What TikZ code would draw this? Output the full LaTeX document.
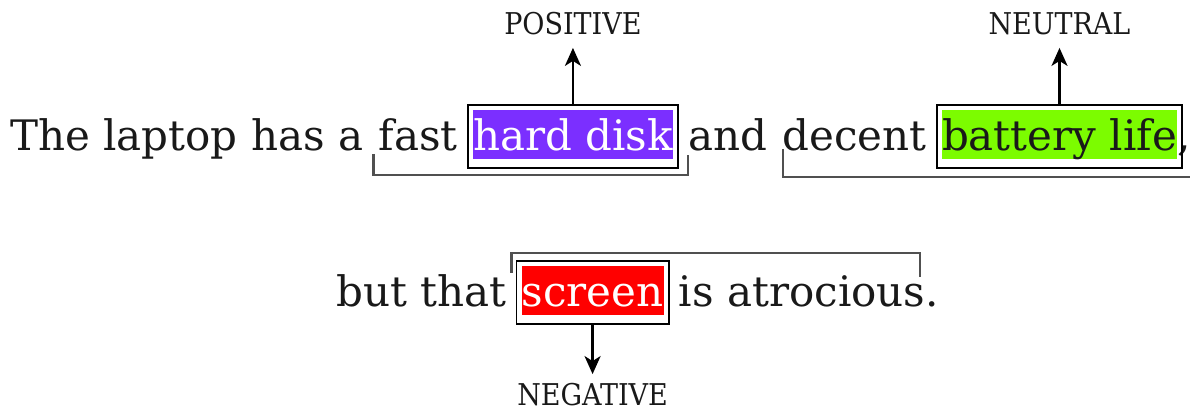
\documentclass[tikz,border=0pt]{standalone}
\usepackage{fontspec}
\setmainfont{DejaVu Serif}
\newfontfamily\polarityfont{DejaVu Serif Condensed}
\usetikzlibrary{arrows.meta, positioning, fit}
\definecolor{aspectpositive}{HTML}{7B2FFF}
\definecolor{aspectneutral}{HTML}{7CFC00}
\definecolor{aspectnegative}{HTML}{FF0000}
\definecolor{spanline}{HTML}{505050}
\newcommand\wordgap{15pt}

\begin{document}
\begin{tikzpicture}[
    x=1pt, y=1pt,
    word/.style={
        inner sep=0pt,
        anchor=base west,
        font=\fontsize{42}{50}\selectfont,
        text=black!90
    },
    aspect/.style={
        word,
        text height=41pt,
        text depth=8pt
    },
    aspectframe/.style={
        draw,
        line width=1.8pt,
        inner xsep=5pt,
        inner ysep=7pt,
        yshift=-2pt
    },
    polarity/.style={
        font=\polarityfont\fontsize{30}{36}\selectfont,
        inner sep=0pt,
        text=black!90
    },
    polaritylink/.style={
        -{Stealth[length=18pt, width=16pt, inset=5pt]},
        line width=2.6pt,
        shorten >=13pt
    },
    opinionspan/.style={
        draw=spanline,
        line width=2.2pt
    }
]
    \useasboundingbox (0,0) rectangle (1190,414);

    % first line
    \node[word] (theLaptop) at (10,263) {The laptop has a};
    \node[word] (fast) at ([xshift=\wordgap]theLaptop.base east) {fast};
    \node[aspect, fill=aspectpositive, text=white] (hardDisk) at ([xshift=\wordgap]fast.base east) {hard disk};
    \node[word] (and) at ([xshift=\wordgap]hardDisk.base east) {and};
    \node[word] (decent) at ([xshift=\wordgap]and.base east) {decent};
    \node[aspect, fill=aspectneutral] (batteryLife) at ([xshift=\wordgap]decent.base east) {battery life};
    \node[word] (comma) at (batteryLife.base east) {,};

    \node[aspectframe, fit=(hardDisk)] (hardDiskFrame) {};
    \node[aspectframe, fit=(batteryLife)] (batteryLifeFrame) {};

    \node[polarity, above=69pt of hardDiskFrame] (positive) {POSITIVE};
    \node[polarity, above=69pt of batteryLifeFrame] (neutral) {NEUTRAL};
    \draw[polaritylink] (hardDiskFrame.north) -- (positive.south);
    \draw[polaritylink] (batteryLifeFrame.north) -- (neutral.south);

    \draw[opinionspan] ([xshift=-5pt, yshift=-3pt]fast.base west) |- ([xshift=9pt, yshift=-6pt]hardDiskFrame.south east) -- ++(0,20);
    \draw[opinionspan] ([xshift=1pt, yshift=2pt]decent.base west) |- ([xshift=8pt, yshift=-8pt]batteryLifeFrame.south east) -- ++(0,30);

    % second line
    \node[word] (butThat) at (336,107) {but that};
    \node[aspect, fill=aspectnegative, text=white] (screen) at ([xshift=\wordgap]butThat.base east) {screen};
    \node[word] (isAtrocious) at ([xshift=\wordgap]screen.base east) {is atrocious};
    \node[word] (period) at (isAtrocious.base east) {.};

    \node[aspectframe, fit=(screen)] (screenFrame) {};
    \node[polarity, below=58pt of screenFrame] (negative) {NEGATIVE};
    \draw[polaritylink, shorten >=9pt] (screenFrame.south) -- (negative.north);

    \draw[opinionspan] ([xshift=-6pt, yshift=30pt]isAtrocious.base east) |- ([xshift=-4pt, yshift=7pt]screenFrame.north west) -- ++(0,-20);
\end{tikzpicture}
\end{document}
